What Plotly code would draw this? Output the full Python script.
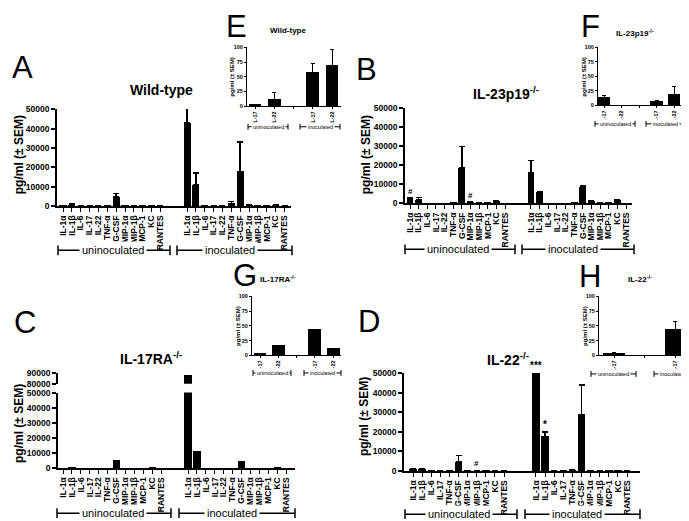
import plotly.graph_objects as go

W, H = 689, 521
FONT = "Arial, 'Liberation Sans', Helvetica, sans-serif"

# ---------------- data ----------------
cytokines_12 = ["IL-1α", "IL-1β", "IL-6", "IL-17", "IL-22", "TNF-α", "G-CSF",
                "MIP-1α", "MIP-1β", "MCP-1", "KC", "RANTES"]
cytokines_11 = ["IL-1α", "IL-1β", "IL-6", "IL-17", "TNF-α", "G-CSF",
                "MIP-1α", "MIP-1β", "MCP-1", "KC", "RANTES"]
main_ticks = [0, 10000, 20000, 30000, 40000, 50000]
main_tick_text = ["0", "10000", "20000", "30000", "40000", "50000"]
break_ticks = [80000, 90000]
break_tick_text = ["80000", "90000"]

# A  Wild-type
wt_uninoc = [200, 800, 50, 0, 0, 150, 4800, 100, 50, 100, 300, 0]
wt_uninoc_err = [0, 300, 0, 0, 0, 0, 1700, 0, 0, 0, 100, 0]
wt_inoc = [43000, 11000, 100, 0, 50, 1500, 18000, 500, 100, 100, 500, 0]
wt_inoc_err = [7300, 6000, 0, 0, 0, 1000, 15000, 100, 0, 0, 200, 0]

# B  IL-23p19-/-
p19_uninoc = [2700, 1800, 0, 0, 0, 100, 18600, 600, 50, 200, 1200, 0]
p19_uninoc_err = [300, 1300, 0, 0, 0, 0, 11200, 100, 0, 0, 300, 0]
p19_inoc = [16300, 5800, 0, 0, 0, 200, 8600, 1300, 50, 100, 1800, 0]
p19_inoc_err = [6300, 200, 0, 0, 0, 0, 400, 200, 0, 0, 200, 0]

# C  IL-17RA-/-
ra_uninoc = [100, 600, 0, 0, 0, 100, 5600, 0, 0, 100, 500, 0]
ra_inoc = [88000, 11800, 0, 0, 0, 300, 4700, 300, 0, 100, 1000, 0]

# D  IL-22-/-
il22_uninoc = [1100, 900, 100, 0, 200, 4800, 100, 0, 200, 0, 0]
il22_uninoc_err = [100, 200, 0, 0, 0, 3200, 0, 0, 0, 0, 0]
il22_inoc = [50000, 17650, 0, 200, 600, 28850, 400, 0, 100, 400, 0]
il22_inoc_err = [0, 2200, 0, 0, 0, 15000, 0, 0, 0, 0, 0]

# insets (IL-17 / IL-22)
inset_labels = ["IL-17", "IL-22"]
inset_ticks = [0, 25, 50, 75, 100]
e_uninoc, e_uninoc_err = [2, 12], [0.5, 11]
e_inoc, e_inoc_err = [57, 69], [15, 27]
f_uninoc, f_uninoc_err = [13, 0], [4.5, 0]
f_inoc, f_inoc_err = [7, 18], [1, 14]
g_uninoc = [3, 16]
g_inoc = [44, 12]
h_labels = ["IL-17"]
h_uninoc, h_uninoc_err = [3], [1]
h_inoc, h_inoc_err = [44], [14]

# ---------------- helpers ----------------
fig = go.Figure()
layout = {}
annotations = []
shapes = []
axn = [0]


def fx(p):
    return p / W


def fy(p):
    return 1 - p / H


def nz(errs):
    return [e if e else None for e in errs]


def add_axes(xdom, ydom, xrange, yrange, xtv, xtt, ytv, ytt, fx_size, fy_size,
             linew, ticklen, show_x=True, minor_x=None):
    axn[0] += 1
    n = axn[0]
    k = "" if n == 1 else str(n)
    xd = dict(
        domain=[fx(xdom[0]), fx(xdom[1])], range=xrange, anchor="y" + k,
        showgrid=False, zeroline=False, showline=show_x, visible=show_x,
        linecolor="black", linewidth=linew, ticks="outside", ticklen=ticklen,
        tickwidth=1, tickcolor="black", tickmode="array", tickvals=xtv,
        ticktext=xtt, tickangle=-90,
        tickfont=dict(family=FONT, size=fx_size, color="black", weight="bold"),
        fixedrange=True)
    if minor_x:
        xd["minor"] = dict(tickmode="array", tickvals=minor_x, ticks="outside",
                           ticklen=ticklen, tickwidth=1, tickcolor="black",
                           showgrid=False)
    layout["xaxis" + k] = xd
    layout["yaxis" + k] = dict(
        domain=[fy(ydom[0]), fy(ydom[1])], range=yrange, anchor="x" + k,
        showgrid=False, zeroline=False, showline=True, linecolor="black",
        linewidth=linew, ticks="outside", ticklen=ticklen, tickwidth=linew,
        tickcolor="black", tickmode="array", tickvals=ytv, ticktext=ytt,
        tickfont=dict(family=FONT, size=fy_size, color="black", weight="bold"),
        fixedrange=True)
    return "x" + k, "y" + k


def bars(xa, ya, xs, ys, errs, width, thick=1.5, cap=3):
    kw = {}
    if errs is not None:
        kw["error_y"] = dict(type="data", symmetric=False, array=nz(errs),
                             arrayminus=[0] * len(errs), color="black",
                             thickness=thick, width=cap)
    fig.add_trace(go.Bar(x=xs, y=ys, width=width, xaxis=xa, yaxis=ya,
                         marker=dict(color="black", line=dict(width=0)),
                         hoverinfo="skip", **kw))


def text(x, y, s, size, bold=False, angle=0, bg=None, pad=0):
    d = dict(x=fx(x), y=fy(y), xref="paper", yref="paper", text=s,
             showarrow=False, textangle=angle, xanchor="center", yanchor="middle",
             font=dict(family=FONT, size=size, color="black",
                       weight="bold" if bold else "normal"))
    if bg:
        d["bgcolor"] = bg
        d["borderpad"] = pad
    annotations.append(d)


def mark(xa, ya, x, y, s, size):
    annotations.append(dict(x=x, y=y, xref=xa, yref=ya, text=s, showarrow=False,
                            yanchor="bottom",
                            font=dict(family=FONT, size=size, color="black",
                                      weight="bold")))


def bracket(x0, x1, y, label, tx, size, endh, lw):
    shapes.append(dict(type="line", xref="paper", yref="paper", x0=fx(x0), x1=fx(x1),
                       y0=fy(y), y1=fy(y), line=dict(color="black", width=lw)))
    for xe in (x0, x1):
        shapes.append(dict(type="line", xref="paper", yref="paper", x0=fx(xe), x1=fx(xe),
                           y0=fy(y - endh), y1=fy(y + endh),
                           line=dict(color="black", width=lw)))
    text(tx, y, label, size, bg="white", pad=2 if size > 6 else 1)


def xr(ax_px0, ax_px1, p0, unit):
    return [(ax_px0 - p0) / unit, (ax_px1 - p0) / unit]


def main_panel(xdom, ydom, p0px, unit, gap, cats, unin, unin_err, inoc, inoc_err):
    n = len(cats)
    xs_u = list(range(n))
    xs_i = [i + gap for i in range(n)]
    xa, ya = add_axes(xdom, ydom, xr(xdom[0], xdom[1], p0px, unit), [0, 50000],
                      xs_u + xs_i, cats + cats, main_ticks, main_tick_text,
                      8.5, 8.5, 1.6, 4)
    bars(xa, ya, xs_u, unin, unin_err, 0.8)
    bars(xa, ya, xs_i, inoc, inoc_err, 0.8)
    return xa, ya, xs_u, xs_i


def inset(xdom, ydom, p0px, unit, pos_u, pos_i, labels, unin, unin_err, inoc,
          inoc_err, width, blank):
    xa, ya = add_axes(xdom, ydom, xr(xdom[0], xdom[1], p0px, unit), [0, 100],
                      pos_u + pos_i, labels + labels,
                      inset_ticks, [str(v) for v in inset_ticks], 5.5, 5.5, 1, 2,
                      minor_x=blank)
    bars(xa, ya, pos_u, unin, unin_err, width, thick=1, cap=2)
    bars(xa, ya, pos_i, inoc, inoc_err, width, thick=1, cap=2)
    return xa, ya


# ---------------- Panel A ----------------
xa, ya, xu, xi = main_panel((49, 283), (197, 98), 55, 8.86, 14, cytokines_12,
                            wt_uninoc, wt_uninoc_err, wt_inoc, wt_inoc_err)
mark(xa, ya, xi[0], wt_inoc[0] + wt_inoc_err[0], "*", 10)
text(14, 56, "A", 31)
text(153, 78, "Wild-type", 14, bold=True)
text(11, 145, "pg/ml (± SEM)", 12, bold=True, angle=-90)
bracket(50, 162, 242, "uninoculated", 105, 11, 5, 1.5)
bracket(169, 284, 242, "inoculated", 222, 11, 5, 1.5)

# ---------------- Panel B ----------------
xa, ya, xu, xi = main_panel((397, 624), (194, 97), 402, 8.64, 14, cytokines_12,
                            p19_uninoc, p19_uninoc_err, p19_inoc, p19_inoc_err)
mark(xa, ya, xu[0], p19_uninoc[0] + p19_uninoc_err[0], "#", 8)
mark(xa, ya, xu[7], p19_uninoc[7] + p19_uninoc_err[7], "#", 8)
text(358, 58, "B", 31)
text(498, 82, "IL-23p19<sup>-/-</sup>", 14, bold=True)
text(358, 145, "pg/ml (± SEM)", 12, bold=True, angle=-90)
bracket(397, 507, 241, "uninoculated", 450, 11, 5, 1.5)
bracket(514, 626, 241, "inoculated", 565, 11, 5, 1.5)

# ---------------- Panel C (broken axis) ----------------
xa, ya, xu, xi = main_panel((50, 287), (464, 387), 55, 8.93, 14, cytokines_12,
                            ra_uninoc, None, ra_inoc, None)
xa2, ya2 = add_axes((50, 287), (378, 367), xr(50, 287, 55, 8.93), [80000, 90000],
                    [], [], break_ticks, break_tick_text, 8.5, 8.5, 1.6, 4,
                    show_x=False)
bars(xa2, ya2, xi, ra_inoc, None, 0.8)
text(17, 316, "C", 31)
text(143, 352, "IL-17RA<sup>-/-</sup>", 14, bold=True)
text(11, 419, "pg/ml (± SEM)", 12, bold=True, angle=-90)
bracket(49, 163, 510, "uninoculated", 105, 11, 5, 1.5)
bracket(171, 287, 510, "inoculated", 224, 11, 5, 1.5)

# ---------------- Panel D ----------------
xa, ya, xu, xi = main_panel((396, 632), (467, 367), 405, 9.11, 13.5, cytokines_11,
                            il22_uninoc, il22_uninoc_err, il22_inoc, il22_inoc_err)
mark(xa, ya, xu[7], il22_uninoc[7] + 400, "#", 8)
mark(xa, ya, xi[0], il22_inoc[0], "***", 10)
mark(xa, ya, xi[1], il22_inoc[1] + il22_inoc_err[1], "*", 10)
text(361, 315, "D", 31)
text(500, 353, "IL-22<sup>-/-</sup>", 14, bold=True)
text(356, 412, "pg/ml (± SEM)", 12, bold=True, angle=-90)
bracket(397, 509, 511, "uninoculated", 451, 11, 5, 1.5)
bracket(517, 632, 511, "inoculated", 569, 11, 5, 1.5)

# ---------------- Inset E ----------------
inset((239, 333), (95, 35), 247, 19.25, [0, 1], [3, 4], inset_labels,
      e_uninoc, e_uninoc_err, e_inoc, e_inoc_err, 0.65, [2])
text(228, 14, "E", 31)
text(280, 18, "Wild-type", 8, bold=True)
text(224, 65, "pg/ml (± SEM)", 6, bold=True, angle=-90)
bracket(240, 280, 116, "uninoculated", 260, 5.5, 3, 1)
bracket(292, 332, 116, "inoculated", 312, 5.5, 3, 1)

# ---------------- Inset F ----------------
inset((590, 675), (94, 35), 596, 17.5, [0, 1], [3, 4], inset_labels,
      f_uninoc, f_uninoc_err, f_inoc, f_inoc_err, 0.7, [2])
text(582, 14, "F", 31)
text(627, 20, "IL-23p19<sup>-/-</sup>", 8, bold=True)
text(576, 65, "pg/ml (± SEM)", 6, bold=True, angle=-90)
bracket(587, 627, 113, "uninoculated", 607, 5.5, 3, 1)
bracket(638, 676, 113, "inoculated", 657, 5.5, 3, 1)

# ---------------- Inset G ----------------
inset((244, 333), (349, 289), 252, 18.3, [0, 1], [3, 4], inset_labels,
      g_uninoc, None, g_inoc, None, 0.7, [2])
text(237, 268, "G", 31)
text(270, 271, "IL-17RA<sup>-/-</sup>", 8, bold=True)
text(230, 319, "pg/ml (± SEM)", 6, bold=True, angle=-90)
bracket(245, 283, 367, "uninoculated", 264, 5.5, 3, 1)
bracket(296, 333, 367, "inoculated", 314, 5.5, 3, 1)

# ---------------- Inset H ----------------
inset((591, 683), (349, 289), 606, 30.7, [0], [2], h_labels,
      h_uninoc, h_uninoc_err, h_inoc, h_inoc_err, 0.7, [1])
text(582, 269, "H", 31)
text(632, 271, "IL-22<sup>-/-</sup>", 8, bold=True)
text(577, 319, "pg/ml (± SEM)", 6, bold=True, angle=-90)
bracket(583, 628, 368, "uninoculated", 605, 5.5, 3, 1)
bracket(646, 683, 368, "inoculated", 664, 5.5, 3, 1)

fig.update_layout(width=W, height=H, margin=dict(l=0, r=0, t=0, b=0, pad=0),
                  paper_bgcolor="white", plot_bgcolor="rgba(0,0,0,0)",
                  showlegend=False, bargap=0, annotations=annotations, shapes=shapes,
                  font=dict(family=FONT, color="black"), **layout)
fig.write_html("out.html")
